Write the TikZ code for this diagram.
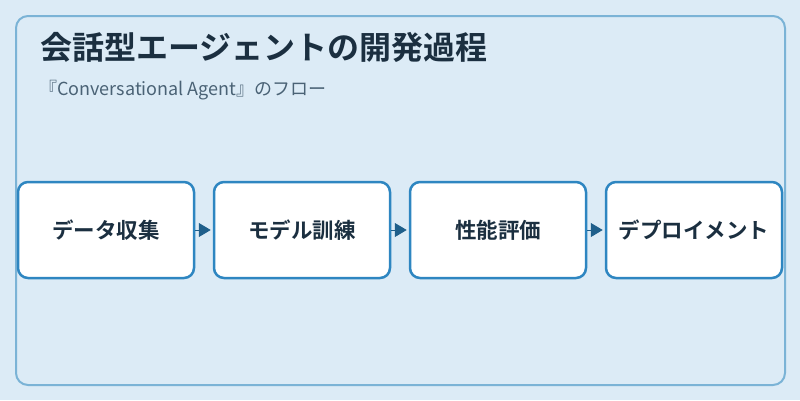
\documentclass[tikz,border=0pt]{standalone}
\usepackage{fontspec}
\setmainfont{Noto Sans CJK JP}
\newfontfamily\jpbold{Noto Sans CJK JP Bold}
\usetikzlibrary{arrows.meta}
\definecolor{bgc}{HTML}{DCEBF6}
\definecolor{framec}{HTML}{7BB3D6}
\definecolor{boxc}{HTML}{2E86C1}
\definecolor{arrc}{HTML}{1F5F8B}
\definecolor{titlec}{HTML}{1B2F40}
\definecolor{subc}{HTML}{4A6275}
\tikzset{
  stepbox/.style={draw=boxc, line width=2.5pt, fill=white, rounded corners=10pt,
    minimum width=176pt, minimum height=96pt, inner sep=0pt,
    font=\jpbold\fontsize{21.5}{26}\selectfont, text=titlec},
  flow/.style={draw=arrc, line width=1pt, -{Triangle[length=12pt,width=14pt]}, arrc, shorten >=2pt}
}
\begin{document}
\begin{tikzpicture}[x=1pt,y=-1pt]
\fill[bgc] (0,0) rectangle (800,400);
\useasboundingbox (0,0) rectangle (800,400);
\draw[framec, line width=2pt, rounded corners=12pt] (16,16) rectangle (785,385);
\node[anchor=base west, inner sep=0pt, text=titlec, font=\jpbold\fontsize{32}{38}\selectfont] (title) at (40,59) {会話型エージェントの開発過程};
\node[anchor=base west, inner sep=0pt, text=subc, font=\fontsize{18}{22}\selectfont] (sub) at (39,95) {『Conversational Agent』のフロー};
\node[stepbox] (s1) at (106,230) {データ収集};
\node[stepbox] (s2) at (302,230) {モデル訓練};
\node[stepbox] (s3) at (498,230) {性能評価};
\node[stepbox] (s4) at (694,230) {デプロイメント};
\draw[flow] (s1) -- (s2);
\draw[flow] (s2) -- (s3);
\draw[flow] (s3) -- (s4);
\end{tikzpicture}
\end{document}
